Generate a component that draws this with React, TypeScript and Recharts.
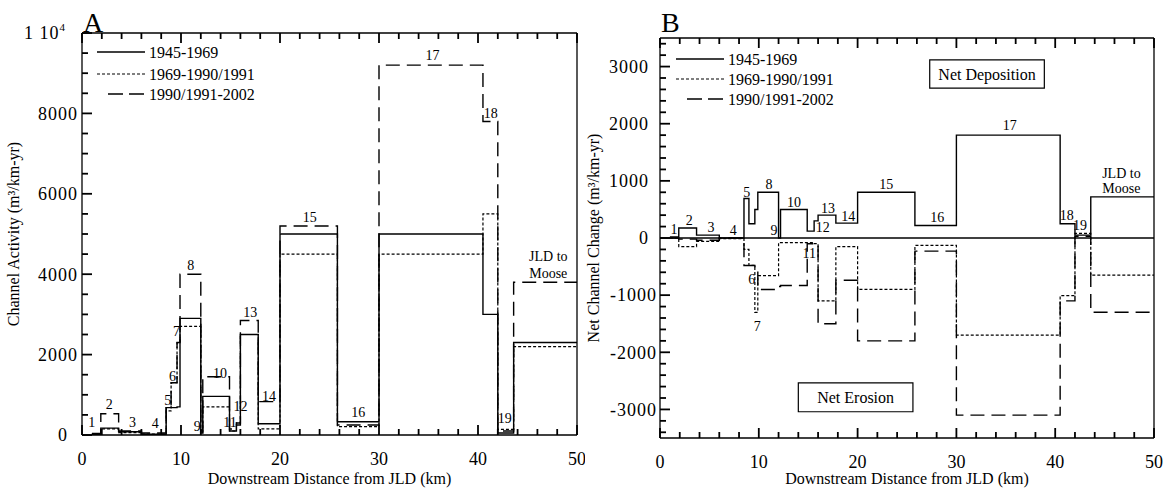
import React from "react";
import {
  LineChart,
  Line,
  XAxis,
  YAxis,
  Legend,
  ReferenceDot,
  ReferenceArea,
  ReferenceLine,
} from "recharts";

const FONT = '"Liberation Serif", "Times New Roman", serif';

// start of each reach segment (km below JLD); last one is "JLD to Moose"
const segStart = [1.0, 1.9, 3.7, 6.0, 8.5, 9.0, 9.6, 9.9, 12.0, 12.2, 14.9, 15.6, 16.0, 17.8, 20.0, 25.8, 30.0, 40.5, 42.0, 43.6];
const reachEnd = 50;

// panel A: channel activity (m3/km-yr)
const activity1945 = [40, 170, 80, 20, 680, 680, 700, 2900, 50, 960, 100, 250, 2500, 280, 5000, 330, 5000, 3000, 50, 2300];
const activity1969 = [30, 150, 60, 20, 600, 1300, 2300, 2700, 50, 700, 100, 300, 2500, 150, 4500, 210, 4500, 5500, 140, 2200];
const activity1990 = [20, 530, 100, 50, 700, 1300, 2300, 4000, 100, 1450, 150, 300, 2850, 830, 5200, 250, 9200, 7800, 100, 3800];

// panel B: net channel change (m3/km-yr)
const change1945 = [20, 175, 50, 0, 690, 250, 500, 800, 0, 500, 120, 300, 400, 260, 800, 220, 1800, 250, 50, 720];
const change1969 = [0, -150, -60, -10, -200, -480, -1300, -660, -80, -80, -80, -100, -1100, -150, -900, -130, -1700, -1010, 80, -650];
const change1990 = [0, -20, -40, 0, -480, -480, -500, -900, -850, -830, -100, -100, -1500, -740, -1800, -230, -3100, -1100, 30, -1300];

const periods = ["1945-1969", "1969-1990/1991", "1990/1991-2002"];

const xTicks = Array.from({ length: 26 }, (_, i) => i * 2);
const activityTicks = Array.from({ length: 21 }, (_, i) => i * 500);
const changeTicks = Array.from({ length: 35 }, (_, i) => -3400 + i * 200);

// segment number labels [text, km, value]
const activityLabels: [string, number, number][] = [
  ["1", 0.98, 333], ["2", 2.76, 775], ["3", 5.1, 310], ["4", 7.4, 290],
  ["5", 8.65, 875], ["6", 9.15, 1475], ["7", 9.55, 2580], ["8", 10.98, 4225],
  ["9", 11.65, 225], ["10", 13.95, 1540], ["11", 14.95, 310], ["12", 16.0, 710],
  ["13", 17.0, 3060], ["14", 18.9, 960], ["15", 23.0, 5420], ["16", 27.9, 560],
  ["17", 35.4, 9440], ["18", 41.3, 8000], ["19", 42.7, 416],
  ["JLD to", 47.1, 4440], ["Moose", 47.1, 4025],
];
const changeLabels: [string, number, number][] = [
  ["1", 1.42, 164], ["2", 2.97, 321], ["3", 5.16, 192], ["4", 7.42, 134],
  ["5", 8.77, 803], ["6", 9.28, -726], ["7", 9.85, -1541], ["8", 11.03, 937],
  ["9", 11.54, 134], ["10", 13.56, 628], ["11", 15.1, -272], ["12", 16.47, 192],
  ["13", 17.0, 524], ["14", 19.06, 379], ["15", 22.9, 937], ["16", 28.07, 367],
  ["17", 35.4, 1984], ["18", 41.16, 396], ["19", 42.5, 222],
  ["JLD to", 46.7, 1134], ["Moose", 46.7, 880],
];

const buildRows = (a: number[], b: number[], c: number[]) => [
  ...segStart.map((x, i) => ({ x, p1945: a[i], p1969: b[i], p1990: c[i] })),
  { x: reachEnd, p1945: a[a.length - 1], p1969: b[b.length - 1], p1990: c[c.length - 1] },
];

const activityRows = buildRows(activity1945, activity1969, activity1990);
const changeRows = buildRows(change1945, change1969, change1990);

const AXIS = { stroke: "#000", strokeWidth: 1.3 };
const DOTTED = "3 2";
const DASHED = "14 7";
const TICK_STROKE = 1.8;

// inward tick marks: long at labelled values, short between
const xTick = (labels: boolean, dir: 1 | -1) => (p: any) => {
  const v = p.payload.value;
  const major = v % 10 === 0;
  const len = major ? 10 : 6;
  return (
    <g>
      <path d={`M${p.x},${p.y}L${p.x},${p.y - dir * len}`} stroke="#000" strokeWidth={TICK_STROKE} fill="none" />
      {labels && major ? (
        <text x={p.x} y={p.y + 30} textAnchor="middle" fontSize={18} fontFamily={FONT} fill="#000">
          {v}
        </text>
      ) : null}
    </g>
  );
};

const yTick = (majorStep: number, dir: 1 | -1, fmt?: (v: number, x: number, y: number) => React.ReactNode) => (p: any) => {
  const v = p.payload.value;
  const major = v % majorStep === 0;
  const len = major ? 10 : 6;
  return (
    <g>
      <path d={`M${p.x},${p.y}L${p.x + dir * len},${p.y}`} stroke="#000" strokeWidth={TICK_STROKE} fill="none" />
      {fmt && major ? fmt(v, p.x, p.y) : null}
    </g>
  );
};

const tickText = (x: number, y: number, content: React.ReactNode) => (
  <text x={x} y={y} dy="0.35em" textAnchor="end" fontSize={18} letterSpacing={1} fontFamily={FONT} fill="#000">
    {content}
  </text>
);

const activityFmt = (v: number, x: number, y: number) => {
  if (v === 10000)
    return tickText(x - 16, y, (
      <>
        1 10<tspan dy={-8} fontSize={11}>4</tspan>
      </>
    ));
  return tickText(v === 0 ? x - 14 : x - 4, y, String(v));
};
const changeFmt = (v: number, x: number, y: number) => tickText(v >= 0 ? x - 11 : x - 3, y, String(v));

const yTitle = (text: string, gap: number) => (props: any) => {
  const vb = props.viewBox;
  const cx = vb.x + vb.width - gap;
  const cy = vb.y + vb.height / 2;
  return (
    <text x={cx} y={cy} transform={`rotate(-90 ${cx} ${cy})`} textAnchor="middle" fontSize={16} fontFamily={FONT} fill="#000">
      {text}
    </text>
  );
};

const xTitle = (gap: number) => (props: any) => {
  const vb = props.viewBox;
  return (
    <text x={vb.x + vb.width / 2} y={vb.y + gap} textAnchor="middle" fontSize={16} fontFamily={FONT} fill="#000">
      Downstream Distance from JLD (km)
    </text>
  );
};

const panelLetter = (letter: string, shift: number) => (props: any) => {
  const vb = props.viewBox;
  return (
    <text x={vb.x + 1} y={vb.y + shift} fontSize={28} fontFamily={FONT} fill="#000">
      {letter}
    </text>
  );
};

const textDot = (text: string) => (p: any) => (
  <text x={p.cx} y={p.cy} dy="0.35em" textAnchor="middle" fontSize={14} fontFamily={FONT} fill="#000">
    {text}
  </text>
);

const LegendBox = ({ rows }: { rows: number[] }) => (
  <svg width={200} height={64}>
    <line x1={0} x2={48} y1={rows[0]} y2={rows[0]} stroke="#000" strokeWidth={1.4} />
    <line x1={0} x2={48} y1={rows[1]} y2={rows[1]} stroke="#000" strokeWidth={1.2} strokeDasharray={DOTTED} />
    <line x1={11} x2={48} y1={rows[2]} y2={rows[2]} stroke="#000" strokeWidth={1.4} strokeDasharray="15 6" />
    {periods.map((p, i) => (
      <text key={p} x={52} y={rows[i] + 5.5} fontSize={16} fontFamily={FONT} fill="#000">
        {p}
      </text>
    ))}
  </svg>
);

const seriesLines = () => [
  <Line key="a" type="stepAfter" dataKey="p1945" stroke="#000" strokeWidth={1.4} dot={false} isAnimationActive={false} />,
  <Line key="b" type="stepAfter" dataKey="p1969" stroke="#000" strokeWidth={1.2} strokeDasharray={DOTTED} dot={false} isAnimationActive={false} />,
  <Line key="c" type="stepAfter" dataKey="p1990" stroke="#000" strokeWidth={1.4} strokeDasharray={DASHED} dot={false} isAnimationActive={false} />,
];

const ActivityChart = () => (
  <LineChart width={585} height={492} data={activityRows} margin={{ top: 32, right: 7, bottom: 56, left: 81 }}>
    <XAxis dataKey="x" type="number" domain={[0, reachEnd]} ticks={xTicks} interval={0} height={1}
      tickSize={0} tickMargin={0} tickLine={false} axisLine={AXIS} tick={xTick(true, 1)} label={xTitle(49)} />
    <XAxis xAxisId="top" orientation="top" dataKey="x" type="number" domain={[0, reachEnd]} ticks={xTicks} interval={0} height={1}
      tickSize={0} tickMargin={0} tickLine={false} axisLine={AXIS} tick={xTick(false, -1)} label={panelLetter("A", 0)} />
    <YAxis type="number" domain={[0, 10000]} ticks={activityTicks} interval={0} width={1}
      tickSize={0} tickMargin={0} tickLine={false} axisLine={AXIS} tick={yTick(2000, 1, activityFmt)}
      label={yTitle("Channel Activity (m³/km-yr)", 63)} />
    <YAxis yAxisId="right" orientation="right" type="number" domain={[0, 10000]} ticks={activityTicks} interval={0} width={1}
      tickSize={0} tickMargin={0} tickLine={false} axisLine={AXIS} tick={yTick(2000, -1)} />
    {seriesLines()}
    {activityLabels.map(([t, x, y], i) => (
      <ReferenceDot key={i} x={x} y={y} r={0} shape={textDot(t)} />
    ))}
    <Legend layout="horizontal" verticalAlign="middle" align="center"
      wrapperStyle={{ left: 97, top: 42, width: 200, height: 64 }} content={() => <LegendBox rows={[10, 32, 52]} />} />
  </LineChart>
);

const ChangeChart = () => (
  <LineChart width={585} height={492} data={changeRows} margin={{ top: 37, right: 15, bottom: 53, left: 74 }}>
    <XAxis dataKey="x" type="number" domain={[0, reachEnd]} ticks={xTicks} interval={0} height={1}
      tickSize={0} tickMargin={0} tickLine={false} axisLine={AXIS} tick={xTick(true, 1)} label={xTitle(46)} />
    <XAxis xAxisId="top" orientation="top" dataKey="x" type="number" domain={[0, reachEnd]} ticks={xTicks} interval={0} height={1}
      tickSize={0} tickMargin={0} tickLine={false} axisLine={AXIS} tick={xTick(false, -1)} label={panelLetter("B", -5)} />
    <YAxis type="number" domain={[-3500, 3500]} ticks={changeTicks} interval={0} width={1}
      tickSize={0} tickMargin={0} tickLine={false} axisLine={AXIS} tick={yTick(1000, 1, changeFmt)}
      label={yTitle("Net Channel Change (m³/km-yr)", 61)} />
    <YAxis yAxisId="right" orientation="right" type="number" domain={[-3500, 3500]} ticks={changeTicks} interval={0} width={1}
      tickSize={0} tickMargin={0} tickLine={false} axisLine={AXIS} tick={yTick(1000, -1)} />
    <ReferenceLine y={0} stroke="#000" strokeWidth={1.3} />
    {seriesLines()}
    {changeLabels.map(([t, x, y], i) => (
      <ReferenceDot key={i} x={x} y={y} r={0} shape={textDot(t)} />
    ))}
    <ReferenceArea x1={27.3} x2={38.9} y1={2624} y2={3118} fill="none" stroke="#000" strokeWidth={1.2}
      label={{ value: "Net Deposition", position: "center", fontSize: 16, fontFamily: FONT, fill: "#000" }} />
    <ReferenceArea x1={14.0} x2={25.6} y1={-3041} y2={-2535} fill="none" stroke="#000" strokeWidth={1.2}
      label={{ value: "Net Erosion", position: "center", fontSize: 16, fontFamily: FONT, fill: "#000" }} />
    <Legend layout="horizontal" verticalAlign="middle" align="center"
      wrapperStyle={{ left: 91, top: 49, width: 200, height: 64 }} content={() => <LegendBox rows={[10, 30, 50]} />} />
  </LineChart>
);

export default function App() {
  return (
    <div style={{ position: "absolute", left: 0, top: 0, width: 1170, height: 492, background: "#fff", fontFamily: FONT }}>
      <div style={{ position: "absolute", left: 0, top: 0 }}>
        <ActivityChart />
      </div>
      <div style={{ position: "absolute", left: 585, top: 0 }}>
        <ChangeChart />
      </div>
    </div>
  );
}
